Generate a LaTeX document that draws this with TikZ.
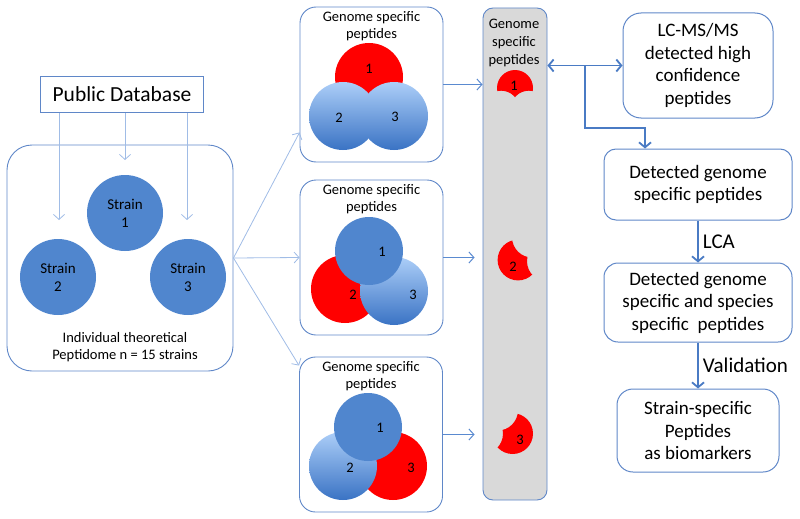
\documentclass[tikz,border=0pt]{standalone}
\usepackage{fontspec}
\setmainfont{Carlito}
\usetikzlibrary{arrows.meta,calc}
\definecolor{bluefill}{RGB}{80,134,206}
\definecolor{lightgrad}{RGB}{172,206,248}
\definecolor{darkgrad}{RGB}{58,115,196}
\definecolor{boxline}{RGB}{95,135,200}
\definecolor{thinarrow}{RGB}{160,188,230}
\definecolor{midarrow}{RGB}{90,138,208}
\definecolor{thickarrow}{RGB}{74,123,196}
\definecolor{colgray}{RGB}{217,217,217}
\begin{document}
\begin{tikzpicture}[x=1pt,y=-1pt,
  plainbox/.style={draw=boxline, line width=0.9pt, inner sep=0pt, align=center},
  leftbox/.style={draw=boxline, line width=0.9pt, rounded corners=25pt, inner sep=0pt},
  vennbox/.style={draw=boxline, line width=0.9pt, rounded corners=16pt, inner sep=0pt, minimum width=143pt, minimum height=155pt},
  colbox/.style={draw=boxline, line width=0.9pt, fill=colgray, rounded corners=10pt, inner sep=0pt, minimum width=64pt, minimum height=492pt},
  rbox/.style={draw=boxline, line width=1pt, rounded corners=16pt, inner sep=0pt, align=center, font=\fontsize{19}{22.5}\selectfont},
  strain/.style={circle, fill=bluefill, minimum size=76pt, inner sep=0pt, align=center, font=\fontsize{15}{18}\selectfont},
  smalltxt/.style={align=center, inner sep=0pt, font=\fontsize{14.5}{17.5}\selectfont},
  num/.style={inner sep=0pt, font=\fontsize{14.5}{16}\selectfont},
  thinarr/.style={draw=thinarrow, line width=0.8pt, -{Straight Barb[length=5pt,width=11pt]}},
  midarr/.style={draw=midarrow, line width=1pt, -{Straight Barb[length=5pt,width=11pt]}},
  thickarr/.style={draw=thickarrow, line width=1.8pt, -{Straight Barb[length=5pt,width=12pt]}},
  dblarr/.style={draw=thickarrow, line width=1.8pt, {Straight Barb[length=5pt,width=12pt]}-{Straight Barb[length=5pt,width=12pt]}},
  lbl/.style={right, xshift=2pt, inner sep=2pt, font=\fontsize{21}{24}\selectfont}
]
\useasboundingbox (0,0) rectangle (800,519);

% ---------- left part ----------
\node[plainbox, minimum width=163pt, minimum height=36pt, font=\fontsize{21.5}{24}\selectfont] (pd) at (122,94.5) {Public Database};
\node[leftbox, minimum width=226pt, minimum height=226pt] (lb) at (120,258) {};
\node[strain] (s1) at (125,213) {Strain\\1};
\node[strain] (s2) at (58,277) {Strain\\2};
\node[strain] (s3) at (188,277) {Strain\\3};
\node[smalltxt] (lt) at (125,347) {Individual theoretical\\Peptidome n = 15 strains};

\coordinate (e1) at (59,220);
\coordinate (e2) at (125,160);
\coordinate (e3) at (187,220);
\draw[thinarr] (pd.south -| e1) -- (e1);
\draw[thinarr] (pd.south -| e2) -- (e2);
\draw[thinarr] (pd.south -| e3) -- (e3);

% ---------- Venn boxes ----------
\node[vennbox] (g1) at (371.5,84.5) {};
\node[vennbox] (g2) at (371.5,257.5) {};
\node[vennbox] (g3) at (371,434.5) {};

\draw[thinarr] (lb.east) -- ($(g1.south west)+(0,-30)$);
\draw[thinarr] (lb.east) -- (g2.west);
\draw[thinarr] (lb.east) -- ($(g3.north west)+(0,9)$);

\node[smalltxt] (g1t) at (371.5,26) {Genome specific\\peptides};
\node[smalltxt] (g2t) at (371.5,199) {Genome specific\\peptides};
\node[smalltxt] (g3t) at (371,376) {Genome specific\\peptides};

% top venn
\fill[red] (369,77) circle[radius=34];
\shade[top color=lightgrad, bottom color=darkgrad] (343,116) circle[radius=34];
\shade[top color=lightgrad, bottom color=darkgrad] (394,116) circle[radius=34];
\node[num] (v11) at (369,69) {1};
\node[num] (v12) at (339,118) {2};
\node[num] (v13) at (395,117) {3};

% middle venn
\fill[red] (345,289) circle[radius=34];
\shade[top color=lightgrad, bottom color=darkgrad] (394,291) circle[radius=34];
\fill[bluefill] (369,251) circle[radius=34];
\node[num] (v21) at (382,252) {1};
\node[num] (v22) at (353,295) {2};
\node[num] (v23) at (413,295) {3};

% bottom venn
\fill[red] (393,466) circle[radius=34];
\shade[top color=lightgrad, bottom color=darkgrad] (343,466) circle[radius=34];
\fill[bluefill] (368,427) circle[radius=34];
\node[num] (v31) at (380,428) {1};
\node[num] (v32) at (350,468) {2};
\node[num] (v33) at (411,468) {3};

% ---------- column ----------
\node[colbox] (col) at (515,254) {};
\node[smalltxt, font=\fontsize{14.5}{18}\selectfont] (colt) at (514,43) {Genome\\specific\\peptides};

\draw[midarr] (g1.east) -- (g1.east -| col.west);
\draw[midarr, shorten >=8pt] (g2.east) -- (g2.east -| col.west);
\draw[midarr, shorten >=8pt] (g3.east) -- (g3.east -| col.west);

\begin{scope}[even odd rule]
  \clip (480,60) rectangle (550,130) (501.2,108.7) circle[radius=18];
  \clip (480,60) rectangle (550,130) (528.8,108.7) circle[radius=18];
  \fill[red] (515,88) circle[radius=18];
\end{scope}
\node[num] (c1) at (514,86) {1};

\begin{scope}[even odd rule]
  \clip (485,225) rectangle (550,295) (532.4,237.2) circle[radius=20.4];
  \clip (485,225) rectangle (550,295) (547.4,261.2) circle[radius=20.4];
  \fill[red] (518,260) circle[radius=20.4];
\end{scope}
\node[num] (c2) at (513,267) {2};

\begin{scope}[even odd rule]
  \clip (485,400) rectangle (550,470) (497.6,410.2) circle[radius=20.4];
  \clip (485,400) rectangle (550,470) (482.6,433.6) circle[radius=20.4];
  \fill[red] (512.6,433.6) circle[radius=20.4];
\end{scope}
\node[num] (c3) at (520,440) {3};

% ---------- right part ----------
\node[rbox, minimum width=150pt, minimum height=105pt, rounded corners=18pt] (lc) at (698,65.5) {LC-MS/MS\\detected high\\confidence\\peptides};
\node[rbox, minimum width=188pt, minimum height=71pt, rounded corners=12pt] (dg) at (698,184.5) {Detected genome\\specific peptides};
\node[rbox, minimum width=188pt, minimum height=79pt, rounded corners=14pt] (ds) at (698,302.5) {Detected genome\\specific and species\\specific\ \ peptides};
\node[rbox, minimum width=162pt, minimum height=83pt, rounded corners=16pt] (ss) at (698,430.5) {Strain-specific\\Peptides\\as biomarkers};

\draw[dblarr] (col.east |- lc.west) -- (lc.west);
\coordinate (br) at ($(col.east |- lc.west)!0.5!(lc.west)$);
\coordinate (bend) at (645,128);
\draw[thickarr] (br) |- (bend) -- (bend |- dg.north);

\draw[thickarr] (dg.south) -- node[lbl] (lca) {LCA} (ds.north);
\draw[thickarr] (ds.south) -- node[lbl] (val) {Validation} (ss.north);
\end{tikzpicture}
\end{document}
